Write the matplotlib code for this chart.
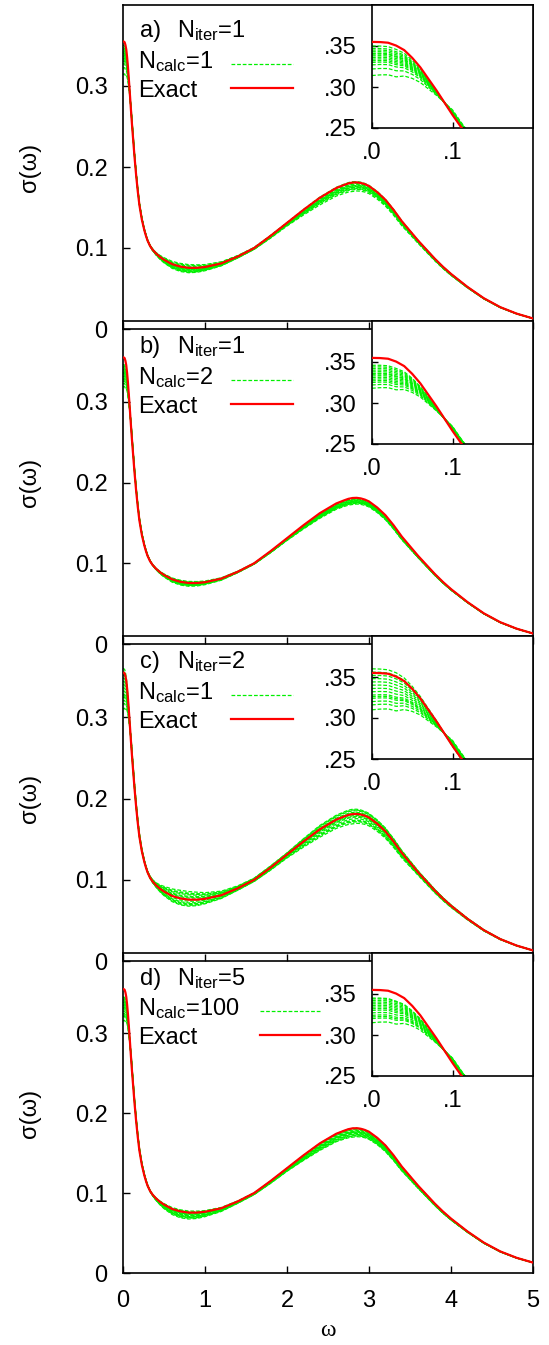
import numpy as np
import matplotlib
matplotlib.use("Agg")
import matplotlib.pyplot as plt
from matplotlib.lines import Line2D

plt.rcParams['font.family'] = ['Liberation Sans', 'DejaVu Sans']
plt.rcParams['mathtext.fontset'] = 'custom'
plt.rcParams['mathtext.rm'] = 'Liberation Sans'
plt.rcParams['mathtext.it'] = 'Liberation Sans'

# ---------------- data ----------------
OMEGA = [0.00, 0.01, 0.02, 0.03, 0.04, 0.05, 0.06, 0.07, 0.08, 0.09, 0.10, 0.11, 0.12,
         0.14, 0.16, 0.18, 0.20, 0.23, 0.26, 0.28, 0.30, 0.33, 0.36, 0.40, 0.45, 0.50, 0.60, 0.70,
         0.80, 0.90, 1.00, 1.20, 1.40, 1.60, 1.80, 2.00, 2.20, 2.40, 2.60, 2.70, 2.75, 2.80,
         2.85, 2.90, 2.95, 3.00, 3.10, 3.20, 3.30, 3.40, 3.50, 3.60, 3.70, 3.80, 3.90, 4.00,
         4.20, 4.40, 4.60, 4.80, 5.00]
SIGMA_EXACT = [0.355, 0.3548, 0.354, 0.3505, 0.345, 0.3355, 0.324, 0.310, 0.296, 0.281, 0.266, 0.252, 0.239,
               0.213, 0.190, 0.170, 0.153, 0.135, 0.122, 0.115, 0.109, 0.1025, 0.098, 0.0935, 0.089, 0.0855, 0.080, 0.077,
               0.0755, 0.0755, 0.0765, 0.081, 0.0895, 0.100, 0.115, 0.131, 0.147, 0.162, 0.174, 0.178, 0.1798, 0.1808,
               0.181, 0.1803, 0.1788, 0.1765, 0.169, 0.1595, 0.147, 0.133, 0.121, 0.109, 0.098, 0.087, 0.077, 0.068,
               0.052, 0.038, 0.027, 0.019, 0.013]

# deviation profiles of the sampled (green) curves, read on a coarse grid
W_NODES = [0.0, 0.03, 0.06, 0.10, 0.15, 0.25, 0.40, 0.55, 0.70, 0.85, 1.10, 1.50, 2.00, 2.40, 2.80, 3.20, 3.60, 4.20, 5.00]
W_START = [1.0, 0.93, 0.45, -0.15, -0.12, -0.05, 0.0, 0.0, 0.0, 0.0, 0.0, 0.0, 0.0, 0.0, 0.0, 0.0, 0.0, 0.0, 0.0]
W_DIP   = [0.0, 0.0, 0.0, 0.0, 0.0, 0.0, 0.3, 0.8, 1.0, 1.0, 0.6, 0.2, 0.0, 0.0, 0.0, 0.0, 0.0, 0.0, 0.0]
W_PEAK  = [0.0, 0.0, 0.0, 0.0, 0.0, 0.0, 0.0, 0.0, 0.0, 0.0, 0.0, 0.0, 0.35, 0.8, 1.0, 0.7, 0.3, 0.1, 0.0]

PANEL_LABELS = ["a)", "b)", "c)", "d)"]
N_ITER = [1, 1, 2, 5]
N_CALC = [1, 2, 1, 100]

A_START = [0.314, 0.322, 0.327, 0.330, 0.332, 0.334, 0.336, 0.338, 0.340, 0.341, 0.343, 0.345, 0.347, 0.350]
A_DIP   = [-0.006, -0.005, -0.004, -0.004, -0.003, -0.002, -0.002, -0.001, 0.000, 0.001, 0.002, 0.003, 0.004, -0.005]
A_PEAK  = [-0.011, -0.009, -0.008, -0.007, -0.006, -0.005, -0.004, -0.004, -0.003, -0.002, -0.001, 0.000, 0.001, -0.006]

B_START = [0.318, 0.322, 0.325, 0.327, 0.329, 0.331, 0.333, 0.335, 0.336, 0.338, 0.340, 0.342, 0.344, 0.346]
B_DIP   = [-0.004, -0.003, -0.003, -0.002, -0.002, -0.001, -0.001, 0.000, 0.000, 0.001, 0.001, 0.002, -0.002, 0.000]
B_PEAK  = [-0.008, -0.007, -0.006, -0.006, -0.005, -0.005, -0.004, -0.004, -0.003, -0.003, -0.002, -0.002, -0.001, -0.006]

C_START = [0.310, 0.316, 0.320, 0.324, 0.328, 0.332, 0.336, 0.340, 0.344, 0.348, 0.352, 0.356, 0.360, 0.326]
C_DIP   = [-0.008, -0.007, -0.005, -0.004, -0.002, 0.000, 0.002, 0.004, 0.006, 0.008, 0.010, -0.006, 0.003, 0.007]
C_PEAK  = [-0.012, -0.010, -0.008, -0.006, -0.004, -0.002, 0.000, 0.002, 0.004, 0.005, 0.006, -0.009, -0.003, 0.001]

D_START = [0.315, 0.320, 0.324, 0.327, 0.330, 0.332, 0.334, 0.336, 0.338, 0.340, 0.342, 0.344, 0.345, 0.322]
D_DIP   = [-0.008, -0.007, -0.006, -0.005, -0.004, -0.003, -0.002, -0.001, 0.000, 0.001, 0.002, -0.006, -0.004, -0.002]
D_PEAK  = [-0.011, -0.010, -0.009, -0.008, -0.007, -0.006, -0.005, -0.004, -0.003, -0.002, -0.001, 0.000, -0.007, -0.005]

STARTS = [A_START, B_START, C_START, D_START]
DIPS = [A_DIP, B_DIP, C_DIP, D_DIP]
PEAKS = [A_PEAK, B_PEAK, C_PEAK, D_PEAK]

Y_TICKS = [0.0, 0.1, 0.2, 0.3]
Y_TICK_LABELS = ["0", "0.1", "0.2", "0.3"]
X_TICKS = [0, 1, 2, 3, 4, 5]
INSET_Y_TICKS = [0.25, 0.30, 0.35]
INSET_Y_LABELS = [".25", ".30", ".35"]
INSET_X_TICKS = [0.0, 0.1]
INSET_X_LABELS = [".0", ".1"]

# ---------------- styling ----------------
GREEN = '#00f000'
RED = '#ff0000'
FS = 17
W, H = 549, 1345

om = np.array(OMEGA)
ex = np.array(SIGMA_EXACT)
ws = np.interp(om, W_NODES, W_START)
wd = np.interp(om, W_NODES, W_DIP)
wp = np.interp(om, W_NODES, W_PEAK)

fig = plt.figure(figsize=(W / 100, H / 100), dpi=100)

left_px, right_px = 123, 533
panels_px = [(5, 329), (321, 644), (636, 961), (953, 1273)]
legend_line_px = [(231, 293), (231, 293), (231, 293), (260, 320)]


def frac_rect(x0, x1, y0, y1):
    return [x0 / W, 1 - y1 / H, (x1 - x0) / W, (y1 - y0) / H]


def draw_curves(ax, i, lw_red):
    for s0, dd, dp in zip(STARTS[i], DIPS[i], PEAKS[i]):
        g = ex + (s0 - ex[0]) * ws + dd * wd + dp * wp
        ax.plot(om, g, color=GREEN, lw=0.9, ls=(0, (3, 1.5)), zorder=2)
    ax.plot(om, ex, color=RED, lw=lw_red, zorder=3)


for i, (top, bot) in enumerate(panels_px):
    ax = fig.add_axes(frac_rect(left_px, right_px, top, bot))
    ax.set_facecolor('none')
    draw_curves(ax, i, 1.6)
    ax.set_xlim(0, 5)
    ax.set_ylim(0, 0.4)
    ax.set_yticks(Y_TICKS)
    ax.set_yticklabels(Y_TICK_LABELS)
    ax.set_xticks(X_TICKS)
    ax.tick_params(direction='in', length=5, width=1, labelsize=FS, pad=11)
    ax.tick_params(axis='x', pad=12)
    if i < 3:
        ax.set_xticklabels([])
    for sp in ax.spines.values():
        sp.set_linewidth(1.2)

    def ay(ypx):
        return 1 - (ypx - 5) / 324

    ax.text(0.041, ay(37), PANEL_LABELS[i], transform=ax.transAxes, fontsize=FS, va='baseline')
    ax.text(0.132, ay(37), r"N$_{\mathrm{iter}}$=%d" % N_ITER[i], transform=ax.transAxes,
            fontsize=FS, va='baseline')
    ax.text(0.037, ay(68), r"N$_{\mathrm{calc}}$=%d" % N_CALC[i], transform=ax.transAxes,
            fontsize=FS, va='baseline')
    ax.text(0.037, ay(97), "Exact", transform=ax.transAxes, fontsize=FS, va='baseline')
    lx0, lx1 = legend_line_px[i]
    ax.add_line(Line2D([(lx0 - left_px) / 410, (lx1 - left_px) / 410], [ay(64), ay(64)],
                       transform=ax.transAxes, color=GREEN, lw=0.9, ls=(0, (3, 1.5))))
    ax.add_line(Line2D([(lx0 - left_px) / 410, (lx1 - left_px) / 410], [ay(88), ay(88)],
                       transform=ax.transAxes, color=RED, lw=1.6))

    fig.text(30 / W, 1 - (top + bot) / 2 / H, "σ(ω)", rotation=90, fontsize=FS,
             ha='center', va='center')

    # inset
    ins = fig.add_axes(frac_rect(372, 533, top, top + 123))
    ins.set_facecolor('white')
    draw_curves(ins, i, 1.6)
    ins.set_xlim(0, 0.2)
    ins.set_ylim(0.25, 0.40)
    ins.set_yticks(INSET_Y_TICKS)
    ins.set_yticklabels(INSET_Y_LABELS)
    ins.set_xticks(INSET_X_TICKS)
    ins.set_xticklabels(INSET_X_LABELS)
    ins.tick_params(direction='in', length=4, width=1, labelsize=FS, pad=11)
    ins.tick_params(axis='x', pad=10)
    for sp in ins.spines.values():
        sp.set_linewidth(1.2)

fig.text(328 / W, 1 - 1330 / H, "ω", fontsize=FS, ha='center', va='center',
         family=['Liberation Serif', 'DejaVu Serif'])

fig.savefig("out.png", dpi=100)
